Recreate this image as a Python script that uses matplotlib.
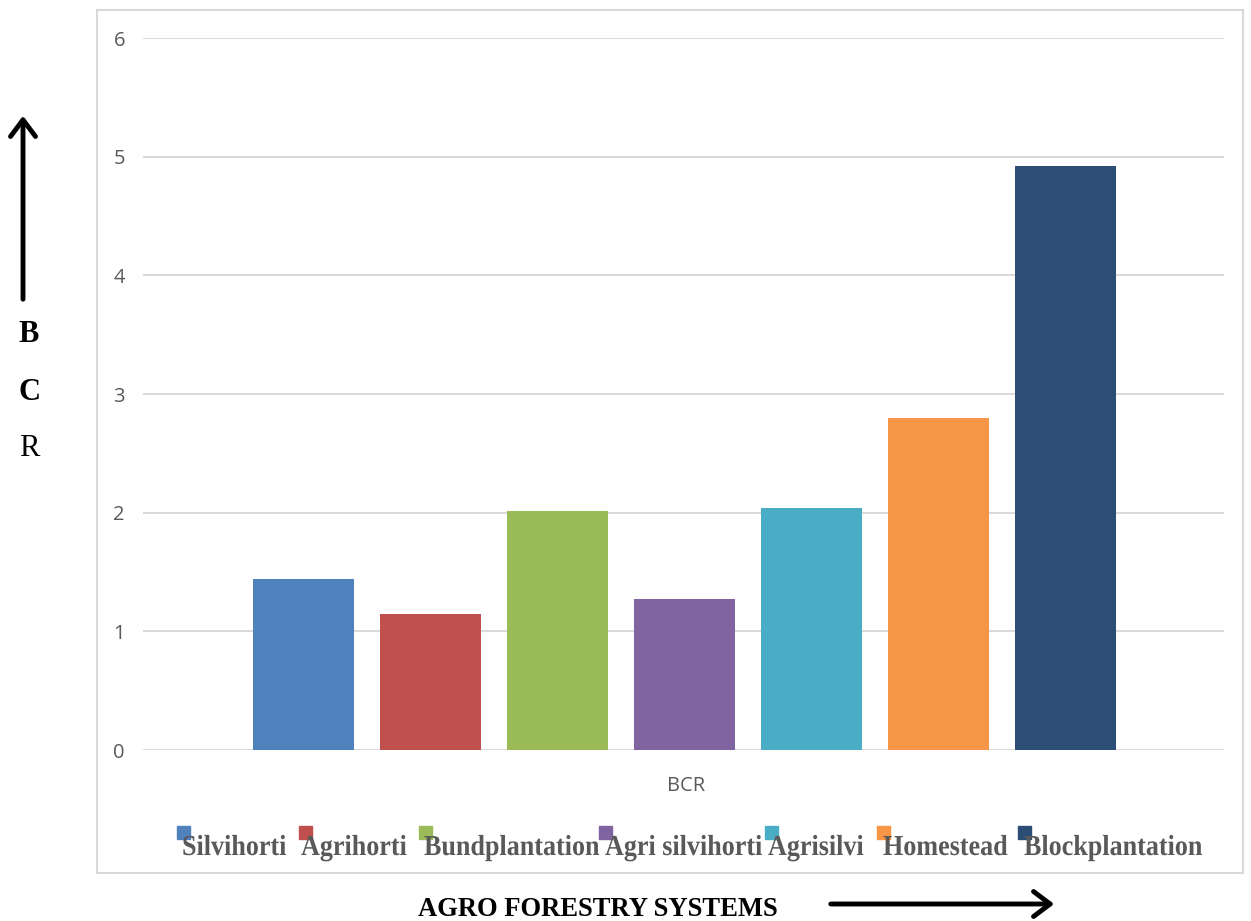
import matplotlib
matplotlib.use("Agg")
import matplotlib.pyplot as plt
from matplotlib.patches import Rectangle, FancyArrowPatch, PathPatch
from matplotlib.textpath import TextPath
from matplotlib.font_manager import FontProperties
from matplotlib.transforms import Affine2D

# Benefit-cost ratio of agroforestry systems
systems = ["Silvihorti", "Agrihorti", "Bundplantation", "Agri silvihorti",
           "Agrisilvi", "Homestead", "Blockplantation"]
bcr = [1.44, 1.15, 2.01, 1.27, 2.04, 2.80, 4.92]
colors = ["#4F81BD", "#C0504D", "#9BBB59", "#8064A2",
          "#4BACC6", "#F79646", "#2C4D75"]
yticks = [0, 1, 2, 3, 4, 5, 6]
category = "BCR"

W, H = 1251, 921
fig = plt.figure(figsize=(W / 100, H / 100), dpi=100)

def fx(px):
    return px / W

def fy(py):
    return 1 - py / H

# pixel space with the origin at the top-left corner
pix = Affine2D().scale(1 / W, -1 / H).translate(0, 1) + fig.transFigure

serif_bold = FontProperties(family="Liberation Serif", weight="bold")

def condensed_text(x, baseline, s, size, sx, color):
    """Text drawn as an outline path, squeezed horizontally by sx."""
    tp = TextPath((0, 0), s, size=size, prop=serif_bold)
    path = Affine2D().scale(sx, -1).translate(x, baseline).transform_path(tp)
    fig.patches.append(PathPatch(path, transform=pix, facecolor=color,
                                 edgecolor="none", zorder=3))

# outer chart frame
fig.patches.append(Rectangle((97, 10), 1146, 863, transform=pix, fill=False,
                             edgecolor="#d9d9d9", linewidth=1.5))

ax = fig.add_axes([fx(143), fy(750), fx(1224) - fx(143), fy(38) - fy(750)])
x = list(range(len(systems)))
ax.bar(x, bcr, width=0.795, color=colors, zorder=3)
ax.set_xlim(-1.264, 7.252)
ax.set_ylim(0, 6)
ax.set_yticks(yticks)
ax.set_yticklabels([str(v) for v in yticks], fontfamily="Open Sans",
                   fontsize=14.5, color="#595959")
ax.tick_params(axis="y", length=0, pad=13)
ax.set_xticks([])
ax.grid(axis="y", color="#d9d9d9", linewidth=1.4, zorder=0)
for s in ax.spines.values():
    s.set_visible(False)

fig.text(fx(686), fy(786), category, ha="center", va="center",
         fontfamily="Open Sans", fontsize=14.5, color="#595959")

# legend row
marker_x = [177, 299, 419, 599, 765, 877, 1018]
text_x = [182, 301, 424, 605, 768, 883, 1024]
for mx, tx, name, c in zip(marker_x, text_x, systems, colors):
    fig.patches.append(Rectangle((mx, 826), 13, 13, transform=pix,
                                 color=c, zorder=2))
    condensed_text(tx, 855, name, 29, 0.9, "#595959")

# axis captions with arrows
for label, py, weight in [("B", 335, "bold"), ("C", 392, "bold"), ("R", 448, "normal")]:
    fig.text(fx(29), fy(py), label, ha="center", va="center",
             fontfamily="Liberation Serif", fontweight=weight, fontsize=22,
             color="black")
fig.patches.append(FancyArrowPatch((23, 302), (23, 113), transform=pix,
                                   arrowstyle="->,head_length=12,head_width=9",
                                   linewidth=3.5, color="black",
                                   mutation_scale=1))

fig.text(fx(598), fy(909), "AGRO FORESTRY SYSTEMS", ha="center", va="center",
         fontfamily="Liberation Serif", fontweight="bold", fontsize=19.2,
         color="black")
fig.patches.append(FancyArrowPatch((828, 904), (1057, 904), transform=pix,
                                   arrowstyle="->,head_length=12,head_width=9",
                                   linewidth=3.5, color="black",
                                   mutation_scale=1))

fig.savefig("out.png", dpi=100, facecolor="white")
